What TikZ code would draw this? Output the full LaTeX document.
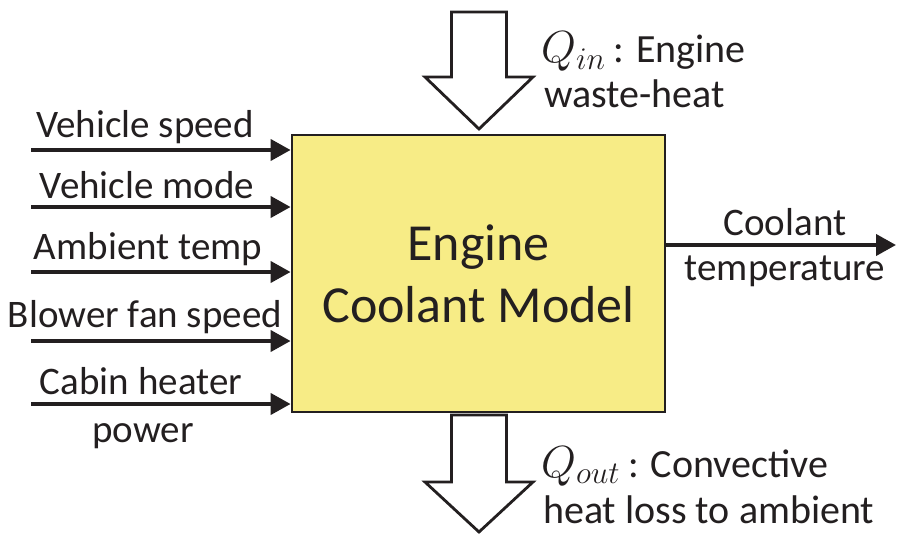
\RequirePackage{fix-cm}
\documentclass[tikz,border=0pt]{standalone}
\usepackage{fontspec}
\setmainfont{Carlito}
\usepackage{tikz}
\usetikzlibrary{
  arrows.meta,
  positioning,
  calc,
}
\definecolor{modelfill}{HTML}{F7EC86}
\definecolor{inkdark}{HTML}{231F20}
\newcommand{\heatq}[1]{{\fontsize{45}{46}\selectfont$Q_{#1}$}}

\begin{document}
\begin{tikzpicture}[x=1pt, y=-1pt,
    inarrow/.style={draw=inkdark, line width=4pt, -{Triangle[length=20pt, width=21pt]}},
    iotext/.style={text=inkdark, inner sep=0pt, font=\fontsize{39}{46}\selectfont},
    heattext/.style={iotext, font=\fontsize{40}{46}\selectfont},
    heatarrow/.style={draw=inkdark, line width=2.8pt, fill=white, miter limit=10}]
  \useasboundingbox (0,0) rectangle (898,535);
  \def\mid{479}
  \def\shaft{27.5}
  \def\head{54}
  % model block
  \node[draw=inkdark, line width=2.8pt, fill=modelfill,
        minimum width=373pt, minimum height=277pt,
        align=center, text=inkdark, font=\fontsize{52}{62}\selectfont]
        (model) at (478.5,273.5) {Engine\\Coolant Model};
  % inputs
  \foreach \y/\name in {150/speed, 207/mode, 272/ambient, 341/blower, 404/heater} {
    \coordinate (\name) at (31,\y);
    \draw[inarrow] (\name) -- (\name -| model.west);
  }
  \node[iotext, anchor=base] (speedtxt)   at (145,138) {Vehicle speed};
  \node[iotext, anchor=base] (modetxt)    at (147,198) {Vehicle mode};
  \node[iotext, anchor=base] (ambienttxt) at (148,259) {Ambient temp};
  \node[iotext, anchor=base] (blowertxt)  at (145,327) {Blower fan speed};
  \node[iotext, anchor=base] (heatertxt)  at (141,394) {Cabin heater};
  \node[iotext, anchor=base] (powertxt)   at (143,442) {power};
  % output
  \coordinate (coolout) at (896,245);
  \draw[inarrow] (model.east |- coolout) -- (coolout);
  \node[iotext, anchor=base] (cooltxt) at (785,235) {Coolant};
  \node[iotext, anchor=base] (temptxt) at (785,280) {temperature};
  % heat flows
  \draw[heatarrow] (\mid-\shaft,12) -- (\mid+\shaft,12) -- (\mid+\shaft,77)
    -- (\mid+\head,77) -- (\mid,129) -- (\mid-\head,77) -- (\mid-\shaft,77) -- cycle;
  \draw[heatarrow] (\mid-\shaft,415) -- (\mid+\shaft,415) -- (\mid+\shaft,482)
    -- (\mid+\head,482) -- (\mid,532) -- (\mid-\head,482) -- (\mid-\shaft,482) -- cycle;
  \node[heattext, anchor=base west] (qintxt)   at (541,63)  {\heatq{in}\hspace{8pt}: Engine};
  \node[heattext, anchor=base west] (wastetxt) at (544,108) {waste-heat};
  \node[heattext, anchor=base west] (qouttxt)  at (541,477) {\heatq{out}\hspace{8pt}: Convective};
  \node[heattext, anchor=base west] (losstxt)  at (543,523) {heat loss to ambient};
\end{tikzpicture}
\end{document}
